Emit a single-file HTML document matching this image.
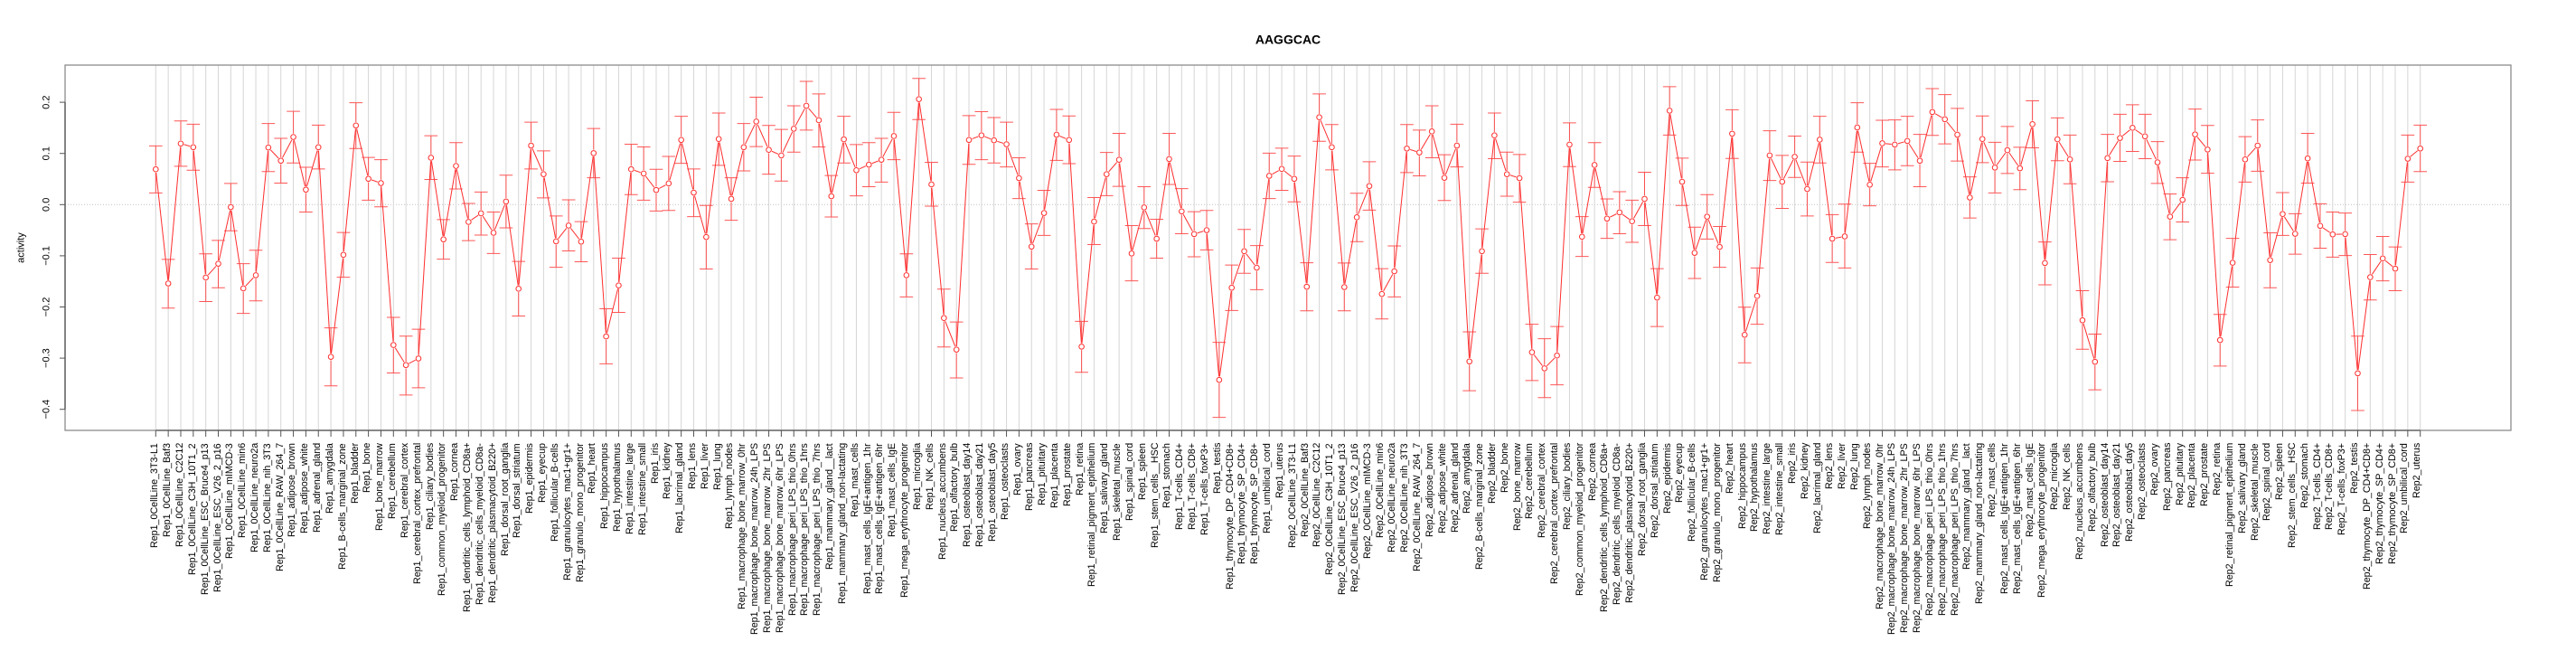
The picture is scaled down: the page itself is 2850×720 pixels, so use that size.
<!DOCTYPE html>
<html><head><meta charset="utf-8"><style>
html,body{margin:0;padding:0;background:#fff;}
#c{position:relative;width:2850px;height:720px;overflow:hidden;font-family:"Liberation Sans",Arial,sans-serif;}
svg{position:absolute;left:0;top:0;}
.t path,.t polyline,.t ellipse{vector-effect:non-scaling-stroke;}
.xl{position:absolute;left:165.38px;top:490px;width:2519.3px;height:230px;display:flex;}
.xl span{flex:0 0 13.842px;width:13.842px;height:230px;writing-mode:vertical-rl;transform:rotate(180deg);text-align:end;line-height:13.842px;font-size:10.7px;white-space:nowrap;color:#000;overflow:visible;}
</style></head><body><div id="c">
<svg width="2850" height="720" viewBox="0 0 2850 720" xmlns="http://www.w3.org/2000/svg" font-family="Liberation Sans, Arial, sans-serif">
<rect x="0" y="0" width="2850" height="720" fill="#fff"/>
<text x="1425" y="48.3" text-anchor="middle" font-weight="bold" font-size="14">AAGGCAC</text>
<line x1="72" y1="226.3" x2="2778" y2="226.3" stroke="#c4c4c4" stroke-dasharray="1 2"/>
<g class="t" transform="matrix(13.842 0 0 0.36398 172.3 70)">
<path fill="none" stroke="#d6d6d6" stroke-width="1" d="M0 5.5V1115.4M1 5.5V1115.4M2 5.5V1115.4M3 5.5V1115.4M4 5.5V1115.4M5 5.5V1115.4M6 5.5V1115.4M7 5.5V1115.4M8 5.5V1115.4M9 5.5V1115.4M10 5.5V1115.4M11 5.5V1115.4M12 5.5V1115.4M13 5.5V1115.4M14 5.5V1115.4M15 5.5V1115.4M16 5.5V1115.4M17 5.5V1115.4M18 5.5V1115.4M19 5.5V1115.4M20 5.5V1115.4M21 5.5V1115.4M22 5.5V1115.4M23 5.5V1115.4M24 5.5V1115.4M25 5.5V1115.4M26 5.5V1115.4M27 5.5V1115.4M28 5.5V1115.4M29 5.5V1115.4M30 5.5V1115.4M31 5.5V1115.4M32 5.5V1115.4M33 5.5V1115.4M34 5.5V1115.4M35 5.5V1115.4M36 5.5V1115.4M37 5.5V1115.4M38 5.5V1115.4M39 5.5V1115.4M40 5.5V1115.4M41 5.5V1115.4M42 5.5V1115.4M43 5.5V1115.4M44 5.5V1115.4M45 5.5V1115.4M46 5.5V1115.4M47 5.5V1115.4M48 5.5V1115.4M49 5.5V1115.4M50 5.5V1115.4M51 5.5V1115.4M52 5.5V1115.4M53 5.5V1115.4M54 5.5V1115.4M55 5.5V1115.4M56 5.5V1115.4M57 5.5V1115.4M58 5.5V1115.4M59 5.5V1115.4M60 5.5V1115.4M61 5.5V1115.4M62 5.5V1115.4M63 5.5V1115.4M64 5.5V1115.4M65 5.5V1115.4M66 5.5V1115.4M67 5.5V1115.4M68 5.5V1115.4M69 5.5V1115.4M70 5.5V1115.4M71 5.5V1115.4M72 5.5V1115.4M73 5.5V1115.4M74 5.5V1115.4M75 5.5V1115.4M76 5.5V1115.4M77 5.5V1115.4M78 5.5V1115.4M79 5.5V1115.4M80 5.5V1115.4M81 5.5V1115.4M82 5.5V1115.4M83 5.5V1115.4M84 5.5V1115.4M85 5.5V1115.4M86 5.5V1115.4M87 5.5V1115.4M88 5.5V1115.4M89 5.5V1115.4M90 5.5V1115.4M91 5.5V1115.4M92 5.5V1115.4M93 5.5V1115.4M94 5.5V1115.4M95 5.5V1115.4M96 5.5V1115.4M97 5.5V1115.4M98 5.5V1115.4M99 5.5V1115.4M100 5.5V1115.4M101 5.5V1115.4M102 5.5V1115.4M103 5.5V1115.4M104 5.5V1115.4M105 5.5V1115.4M106 5.5V1115.4M107 5.5V1115.4M108 5.5V1115.4M109 5.5V1115.4M110 5.5V1115.4M111 5.5V1115.4M112 5.5V1115.4M113 5.5V1115.4M114 5.5V1115.4M115 5.5V1115.4M116 5.5V1115.4M117 5.5V1115.4M118 5.5V1115.4M119 5.5V1115.4M120 5.5V1115.4M121 5.5V1115.4M122 5.5V1115.4M123 5.5V1115.4M124 5.5V1115.4M125 5.5V1115.4M126 5.5V1115.4M127 5.5V1115.4M128 5.5V1115.4M129 5.5V1115.4M130 5.5V1115.4M131 5.5V1115.4M132 5.5V1115.4M133 5.5V1115.4M134 5.5V1115.4M135 5.5V1115.4M136 5.5V1115.4M137 5.5V1115.4M138 5.5V1115.4M139 5.5V1115.4M140 5.5V1115.4M141 5.5V1115.4M142 5.5V1115.4M143 5.5V1115.4M144 5.5V1115.4M145 5.5V1115.4M146 5.5V1115.4M147 5.5V1115.4M148 5.5V1115.4M149 5.5V1115.4M150 5.5V1115.4M151 5.5V1115.4M152 5.5V1115.4M153 5.5V1115.4M154 5.5V1115.4M155 5.5V1115.4M156 5.5V1115.4M157 5.5V1115.4M158 5.5V1115.4M159 5.5V1115.4M160 5.5V1115.4M161 5.5V1115.4M162 5.5V1115.4M163 5.5V1115.4M164 5.5V1115.4M165 5.5V1115.4M166 5.5V1115.4M167 5.5V1115.4M168 5.5V1115.4M169 5.5V1115.4M170 5.5V1115.4M171 5.5V1115.4M172 5.5V1115.4M173 5.5V1115.4M174 5.5V1115.4M175 5.5V1115.4M176 5.5V1115.4M177 5.5V1115.4M178 5.5V1115.4M179 5.5V1115.4M180 5.5V1115.4M181 5.5V1115.4"/>
<path fill="none" stroke="#555" stroke-width="1" d="M0 1115.4V1134.6M1 1115.4V1134.6M2 1115.4V1134.6M3 1115.4V1134.6M4 1115.4V1134.6M5 1115.4V1134.6M6 1115.4V1134.6M7 1115.4V1134.6M8 1115.4V1134.6M9 1115.4V1134.6M10 1115.4V1134.6M11 1115.4V1134.6M12 1115.4V1134.6M13 1115.4V1134.6M14 1115.4V1134.6M15 1115.4V1134.6M16 1115.4V1134.6M17 1115.4V1134.6M18 1115.4V1134.6M19 1115.4V1134.6M20 1115.4V1134.6M21 1115.4V1134.6M22 1115.4V1134.6M23 1115.4V1134.6M24 1115.4V1134.6M25 1115.4V1134.6M26 1115.4V1134.6M27 1115.4V1134.6M28 1115.4V1134.6M29 1115.4V1134.6M30 1115.4V1134.6M31 1115.4V1134.6M32 1115.4V1134.6M33 1115.4V1134.6M34 1115.4V1134.6M35 1115.4V1134.6M36 1115.4V1134.6M37 1115.4V1134.6M38 1115.4V1134.6M39 1115.4V1134.6M40 1115.4V1134.6M41 1115.4V1134.6M42 1115.4V1134.6M43 1115.4V1134.6M44 1115.4V1134.6M45 1115.4V1134.6M46 1115.4V1134.6M47 1115.4V1134.6M48 1115.4V1134.6M49 1115.4V1134.6M50 1115.4V1134.6M51 1115.4V1134.6M52 1115.4V1134.6M53 1115.4V1134.6M54 1115.4V1134.6M55 1115.4V1134.6M56 1115.4V1134.6M57 1115.4V1134.6M58 1115.4V1134.6M59 1115.4V1134.6M60 1115.4V1134.6M61 1115.4V1134.6M62 1115.4V1134.6M63 1115.4V1134.6M64 1115.4V1134.6M65 1115.4V1134.6M66 1115.4V1134.6M67 1115.4V1134.6M68 1115.4V1134.6M69 1115.4V1134.6M70 1115.4V1134.6M71 1115.4V1134.6M72 1115.4V1134.6M73 1115.4V1134.6M74 1115.4V1134.6M75 1115.4V1134.6M76 1115.4V1134.6M77 1115.4V1134.6M78 1115.4V1134.6M79 1115.4V1134.6M80 1115.4V1134.6M81 1115.4V1134.6M82 1115.4V1134.6M83 1115.4V1134.6M84 1115.4V1134.6M85 1115.4V1134.6M86 1115.4V1134.6M87 1115.4V1134.6M88 1115.4V1134.6M89 1115.4V1134.6M90 1115.4V1134.6M91 1115.4V1134.6M92 1115.4V1134.6M93 1115.4V1134.6M94 1115.4V1134.6M95 1115.4V1134.6M96 1115.4V1134.6M97 1115.4V1134.6M98 1115.4V1134.6M99 1115.4V1134.6M100 1115.4V1134.6M101 1115.4V1134.6M102 1115.4V1134.6M103 1115.4V1134.6M104 1115.4V1134.6M105 1115.4V1134.6M106 1115.4V1134.6M107 1115.4V1134.6M108 1115.4V1134.6M109 1115.4V1134.6M110 1115.4V1134.6M111 1115.4V1134.6M112 1115.4V1134.6M113 1115.4V1134.6M114 1115.4V1134.6M115 1115.4V1134.6M116 1115.4V1134.6M117 1115.4V1134.6M118 1115.4V1134.6M119 1115.4V1134.6M120 1115.4V1134.6M121 1115.4V1134.6M122 1115.4V1134.6M123 1115.4V1134.6M124 1115.4V1134.6M125 1115.4V1134.6M126 1115.4V1134.6M127 1115.4V1134.6M128 1115.4V1134.6M129 1115.4V1134.6M130 1115.4V1134.6M131 1115.4V1134.6M132 1115.4V1134.6M133 1115.4V1134.6M134 1115.4V1134.6M135 1115.4V1134.6M136 1115.4V1134.6M137 1115.4V1134.6M138 1115.4V1134.6M139 1115.4V1134.6M140 1115.4V1134.6M141 1115.4V1134.6M142 1115.4V1134.6M143 1115.4V1134.6M144 1115.4V1134.6M145 1115.4V1134.6M146 1115.4V1134.6M147 1115.4V1134.6M148 1115.4V1134.6M149 1115.4V1134.6M150 1115.4V1134.6M151 1115.4V1134.6M152 1115.4V1134.6M153 1115.4V1134.6M154 1115.4V1134.6M155 1115.4V1134.6M156 1115.4V1134.6M157 1115.4V1134.6M158 1115.4V1134.6M159 1115.4V1134.6M160 1115.4V1134.6M161 1115.4V1134.6M162 1115.4V1134.6M163 1115.4V1134.6M164 1115.4V1134.6M165 1115.4V1134.6M166 1115.4V1134.6M167 1115.4V1134.6M168 1115.4V1134.6M169 1115.4V1134.6M170 1115.4V1134.6M171 1115.4V1134.6M172 1115.4V1134.6M173 1115.4V1134.6M174 1115.4V1134.6M175 1115.4V1134.6M176 1115.4V1134.6M177 1115.4V1134.6M178 1115.4V1134.6M179 1115.4V1134.6M180 1115.4V1134.6M181 1115.4V1134.6"/>
<polyline fill="none" stroke="#ff2e2e" stroke-width="1" points="0,322 1,669 2,244 3,255 4,651 5,609 6,437 7,684 8,644 9,256 10,296 11,224 12,384 13,255 14,892 15,582 16,189 17,351 18,364 19,856 20,917 21,897 22,287 23,535 24,312 25,482 26,456 27,515 28,420 29,685 30,250 31,337 32,541 33,493 34,542 35,273 36,830 37,675 38,322 39,335 40,385 41,365 42,233 43,393 44,528 45,230 46,412 47,255 48,177 49,263 50,280 51,199 52,129 53,173 54,404 55,231 56,325 57,308 58,293 59,221 60,644 61,109 62,368 63,774 64,870 65,233 66,219 67,234 68,246 69,349 70,557 71,455 72,217 73,233 74,861 75,481 76,337 77,293 78,578 79,438 80,533 81,291 82,450 83,519 84,507 85,962 86,682 87,571 88,621 89,342 90,321 91,351 92,679 93,164 94,255 95,680 96,468 97,373 98,701 99,632 100,259 101,271 102,207 103,348 104,250 105,906 106,571 107,219 108,337 109,349 110,878 111,927 112,888 113,247 114,527 115,309 116,472 117,453 118,480 119,412 120,712 121,144 122,360 123,576 124,466 125,558 126,214 127,825 128,707 129,280 130,360 131,284 132,382 133,232 134,533 135,526 136,195 137,369 138,243 139,247 140,236 141,296 142,148 143,170 144,217 145,408 146,230 147,317 148,264 149,319 150,185 151,607 152,231 153,292 154,781 155,907 156,288 157,227 158,196 159,222 160,301 161,466 162,415 163,216 164,262 165,841 166,606 167,292 168,250 169,598 170,458 171,518 172,289 173,494 174,520 175,519 176,942 177,650 178,593 179,624 180,290 181,259"/>
<path fill="none" stroke="#ff3a3a" stroke-opacity="0.85" stroke-width="1" d="M-.53 251h1.06m-.53 0V394m-.53 0h1.06M.47 596h1.06m-.53 0V744m-.53 0h1.06M1.47 175h1.06m-.53 0V313m-.53 0h1.06M2.47 185h1.06m-.53 0V325m-.53 0h1.06M3.47 579h1.06m-.53 0V724m-.53 0h1.06M4.47 538h1.06m-.53 0V682m-.53 0h1.06M5.47 365h1.06m-.53 0V509m-.53 0h1.06M6.47 609h1.06m-.53 0V760m-.53 0h1.06M7.47 568h1.06m-.53 0V722m-.53 0h1.06M8.47 183h1.06m-.53 0V329m-.53 0h1.06M9.47 228h1.06m-.53 0V364m-.53 0h1.06M10.47 146h1.06m-.53 0V303m-.53 0h1.06M11.47 316h1.06m-.53 0V452m-.53 0h1.06M12.47 188h1.06m-.53 0V321m-.53 0h1.06M13.47 804h1.06m-.53 0V980m-.53 0h1.06M14.47 514h1.06m-.53 0V650m-.53 0h1.06M15.47 120h1.06m-.53 0V259m-.53 0h1.06M16.47 286h1.06m-.53 0V416m-.53 0h1.06M17.47 293h1.06m-.53 0V436m-.53 0h1.06M18.47 772h1.06m-.53 0V941m-.53 0h1.06M19.47 829h1.06m-.53 0V1008m-.53 0h1.06M20.47 808h1.06m-.53 0V986m-.53 0h1.06M21.47 220h1.06m-.53 0V353m-.53 0h1.06M22.47 475h1.06m-.53 0V595m-.53 0h1.06M23.47 241h1.06m-.53 0V382m-.53 0h1.06M24.47 426h1.06m-.53 0V539m-.53 0h1.06M25.47 391h1.06m-.53 0V522m-.53 0h1.06M26.47 452h1.06m-.53 0V578m-.53 0h1.06M27.47 340h1.06m-.53 0V500m-.53 0h1.06M28.47 602h1.06m-.53 0V768m-.53 0h1.06M29.47 179h1.06m-.53 0V321m-.53 0h1.06M30.47 266h1.06m-.53 0V409m-.53 0h1.06M31.47 464h1.06m-.53 0V620m-.53 0h1.06M32.47 415h1.06m-.53 0V570m-.53 0h1.06M33.47 481h1.06m-.53 0V603m-.53 0h1.06M34.47 198h1.06m-.53 0V348m-.53 0h1.06M35.47 746h1.06m-.53 0V913m-.53 0h1.06M36.47 592h1.06m-.53 0V757m-.53 0h1.06M37.47 246h1.06m-.53 0V399m-.53 0h1.06M38.47 254h1.06m-.53 0V416m-.53 0h1.06M39.47 322h1.06m-.53 0V449m-.53 0h1.06M40.47 283h1.06m-.53 0V447m-.53 0h1.06M41.47 161h1.06m-.53 0V304m-.53 0h1.06M42.47 321h1.06m-.53 0V466m-.53 0h1.06M43.47 432h1.06m-.53 0V625m-.53 0h1.06M44.47 151h1.06m-.53 0V310m-.53 0h1.06M45.47 348h1.06m-.53 0V477m-.53 0h1.06M46.47 183h1.06m-.53 0V327m-.53 0h1.06M47.47 103h1.06m-.53 0V253m-.53 0h1.06M48.47 189h1.06m-.53 0V337m-.53 0h1.06M49.47 201h1.06m-.53 0V358m-.53 0h1.06M50.47 129h1.06m-.53 0V270m-.53 0h1.06M51.47 55h1.06m-.53 0V203m-.53 0h1.06M52.47 93h1.06m-.53 0V254m-.53 0h1.06M53.47 341h1.06m-.53 0V467m-.53 0h1.06M54.47 161h1.06m-.53 0V303m-.53 0h1.06M55.47 247h1.06m-.53 0V403m-.53 0h1.06M56.47 241h1.06m-.53 0V375m-.53 0h1.06M57.47 228h1.06m-.53 0V361m-.53 0h1.06M58.47 149h1.06m-.53 0V293m-.53 0h1.06M59.47 579h1.06m-.53 0V710m-.53 0h1.06M60.47 46h1.06m-.53 0V171m-.53 0h1.06M61.47 301h1.06m-.53 0V434m-.53 0h1.06M62.47 686h1.06m-.53 0V862m-.53 0h1.06M63.47 786h1.06m-.53 0V956m-.53 0h1.06M64.47 159h1.06m-.53 0V307m-.53 0h1.06M65.47 147h1.06m-.53 0V293m-.53 0h1.06M66.47 165h1.06m-.53 0V303m-.53 0h1.06M67.47 179h1.06m-.53 0V315m-.53 0h1.06M68.47 287h1.06m-.53 0V411m-.53 0h1.06M69.47 488h1.06m-.53 0V625m-.53 0h1.06M70.47 386h1.06m-.53 0V523m-.53 0h1.06M71.47 140h1.06m-.53 0V295m-.53 0h1.06M72.47 160h1.06m-.53 0V305m-.53 0h1.06M73.47 784h1.06m-.53 0V939m-.53 0h1.06M74.47 408h1.06m-.53 0V551m-.53 0h1.06M75.47 271h1.06m-.53 0V402m-.53 0h1.06M76.47 213h1.06m-.53 0V374m-.53 0h1.06M77.47 493h1.06m-.53 0V661m-.53 0h1.06M78.47 375h1.06m-.53 0V502m-.53 0h1.06M79.47 474h1.06m-.53 0V592m-.53 0h1.06M80.47 213h1.06m-.53 0V368m-.53 0h1.06M81.47 381h1.06m-.53 0V518m-.53 0h1.06M82.47 451h1.06m-.53 0V588m-.53 0h1.06M83.47 447h1.06m-.53 0V567m-.53 0h1.06M84.47 848h1.06m-.53 0V1076m-.53 0h1.06M85.47 613h1.06m-.53 0V751m-.53 0h1.06M86.47 505h1.06m-.53 0V638m-.53 0h1.06M87.47 554h1.06m-.53 0V688m-.53 0h1.06M88.47 273h1.06m-.53 0V411m-.53 0h1.06M89.47 258h1.06m-.53 0V386m-.53 0h1.06M90.47 282h1.06m-.53 0V421m-.53 0h1.06M91.47 606h1.06m-.53 0V752m-.53 0h1.06M92.47 93h1.06m-.53 0V237m-.53 0h1.06M93.47 186h1.06m-.53 0V324m-.53 0h1.06M94.47 607h1.06m-.53 0V752m-.53 0h1.06M95.47 395h1.06m-.53 0V542m-.53 0h1.06M96.47 299h1.06m-.53 0V446m-.53 0h1.06M97.47 624h1.06m-.53 0V777m-.53 0h1.06M98.47 555h1.06m-.53 0V710m-.53 0h1.06M99.47 186h1.06m-.53 0V332m-.53 0h1.06M100.47 203h1.06m-.53 0V342m-.53 0h1.06M101.47 129h1.06m-.53 0V287m-.53 0h1.06M102.47 278h1.06m-.53 0V417m-.53 0h1.06M103.47 185h1.06m-.53 0V315m-.53 0h1.06M104.47 816h1.06m-.53 0V995m-.53 0h1.06M105.47 503h1.06m-.53 0V638m-.53 0h1.06M106.47 151h1.06m-.53 0V290m-.53 0h1.06M107.47 270h1.06m-.53 0V404m-.53 0h1.06M108.47 277h1.06m-.53 0V422m-.53 0h1.06M109.47 793h1.06m-.53 0V964m-.53 0h1.06M110.47 837h1.06m-.53 0V1016m-.53 0h1.06M111.47 800h1.06m-.53 0V977m-.53 0h1.06M112.47 181h1.06m-.53 0V314m-.53 0h1.06M113.47 466h1.06m-.53 0V587m-.53 0h1.06M114.47 241h1.06m-.53 0V377m-.53 0h1.06M115.47 412h1.06m-.53 0V532m-.53 0h1.06M116.47 390h1.06m-.53 0V518m-.53 0h1.06M117.47 416h1.06m-.53 0V544m-.53 0h1.06M118.47 331h1.06m-.53 0V493m-.53 0h1.06M119.47 624h1.06m-.53 0V800m-.53 0h1.06M120.47 71h1.06m-.53 0V218m-.53 0h1.06M121.47 288h1.06m-.53 0V432m-.53 0h1.06M122.47 498h1.06m-.53 0V654m-.53 0h1.06M123.47 399h1.06m-.53 0V534m-.53 0h1.06M124.47 496h1.06m-.53 0V620m-.53 0h1.06M125.47 141h1.06m-.53 0V289m-.53 0h1.06M126.47 741h1.06m-.53 0V910m-.53 0h1.06M127.47 622h1.06m-.53 0V793m-.53 0h1.06M128.47 205h1.06m-.53 0V356m-.53 0h1.06M129.47 280h1.06m-.53 0V441m-.53 0h1.06M130.47 221h1.06m-.53 0V347m-.53 0h1.06M131.47 300h1.06m-.53 0V464m-.53 0h1.06M132.47 161h1.06m-.53 0V303m-.53 0h1.06M133.47 460h1.06m-.53 0V605m-.53 0h1.06M134.47 428h1.06m-.53 0V622m-.53 0h1.06M135.47 120h1.06m-.53 0V270m-.53 0h1.06M136.47 304h1.06m-.53 0V433m-.53 0h1.06M137.47 173h1.06m-.53 0V315m-.53 0h1.06M138.47 172h1.06m-.53 0V324m-.53 0h1.06M139.47 161h1.06m-.53 0V311m-.53 0h1.06M140.47 216h1.06m-.53 0V375m-.53 0h1.06M141.47 77h1.06m-.53 0V219m-.53 0h1.06M142.47 95h1.06m-.53 0V245m-.53 0h1.06M143.47 137h1.06m-.53 0V297m-.53 0h1.06M144.47 345h1.06m-.53 0V470m-.53 0h1.06M145.47 160h1.06m-.53 0V302m-.53 0h1.06M146.47 240h1.06m-.53 0V394m-.53 0h1.06M147.47 192h1.06m-.53 0V335m-.53 0h1.06M148.47 255h1.06m-.53 0V384m-.53 0h1.06M149.47 114h1.06m-.53 0V257m-.53 0h1.06M150.47 543h1.06m-.53 0V673m-.53 0h1.06M151.47 166h1.06m-.53 0V296m-.53 0h1.06M152.47 218h1.06m-.53 0V366m-.53 0h1.06M153.47 691h1.06m-.53 0V869m-.53 0h1.06M154.47 823h1.06m-.53 0V992m-.53 0h1.06M155.47 216h1.06m-.53 0V360m-.53 0h1.06M156.47 155h1.06m-.53 0V298m-.53 0h1.06M157.47 126h1.06m-.53 0V268m-.53 0h1.06M158.47 155h1.06m-.53 0V290m-.53 0h1.06M159.47 238h1.06m-.53 0V365m-.53 0h1.06M160.47 397h1.06m-.53 0V536m-.53 0h1.06M161.47 348h1.06m-.53 0V482m-.53 0h1.06M162.47 139h1.06m-.53 0V294m-.53 0h1.06M163.47 189h1.06m-.53 0V334m-.53 0h1.06M164.47 763h1.06m-.53 0V920m-.53 0h1.06M165.47 532h1.06m-.53 0V680m-.53 0h1.06M166.47 223h1.06m-.53 0V361m-.53 0h1.06M167.47 172h1.06m-.53 0V328m-.53 0h1.06M168.47 515h1.06m-.53 0V682m-.53 0h1.06M169.47 393h1.06m-.53 0V523m-.53 0h1.06M170.47 457h1.06m-.53 0V580m-.53 0h1.06M171.47 213h1.06m-.53 0V364m-.53 0h1.06M172.47 427h1.06m-.53 0V562m-.53 0h1.06M173.47 452h1.06m-.53 0V589m-.53 0h1.06M174.47 455h1.06m-.53 0V584m-.53 0h1.06M175.47 829h1.06m-.53 0V1055m-.53 0h1.06M176.47 581h1.06m-.53 0V719m-.53 0h1.06M177.47 526h1.06m-.53 0V661m-.53 0h1.06M178.47 558h1.06m-.53 0V691m-.53 0h1.06M179.47 218h1.06m-.53 0V361m-.53 0h1.06M180.47 188h1.06m-.53 0V329m-.53 0h1.06"/>
<g fill="#fff" stroke="none">
<ellipse cx="0" cy="322" rx=".2745" ry="10.44"/><ellipse cx="1" cy="669" rx=".2745" ry="10.44"/><ellipse cx="2" cy="244" rx=".2745" ry="10.44"/><ellipse cx="3" cy="255" rx=".2745" ry="10.44"/><ellipse cx="4" cy="651" rx=".2745" ry="10.44"/><ellipse cx="5" cy="609" rx=".2745" ry="10.44"/><ellipse cx="6" cy="437" rx=".2745" ry="10.44"/><ellipse cx="7" cy="684" rx=".2745" ry="10.44"/><ellipse cx="8" cy="644" rx=".2745" ry="10.44"/><ellipse cx="9" cy="256" rx=".2745" ry="10.44"/><ellipse cx="10" cy="296" rx=".2745" ry="10.44"/><ellipse cx="11" cy="224" rx=".2745" ry="10.44"/><ellipse cx="12" cy="384" rx=".2745" ry="10.44"/><ellipse cx="13" cy="255" rx=".2745" ry="10.44"/><ellipse cx="14" cy="892" rx=".2745" ry="10.44"/><ellipse cx="15" cy="582" rx=".2745" ry="10.44"/><ellipse cx="16" cy="189" rx=".2745" ry="10.44"/><ellipse cx="17" cy="351" rx=".2745" ry="10.44"/><ellipse cx="18" cy="364" rx=".2745" ry="10.44"/><ellipse cx="19" cy="856" rx=".2745" ry="10.44"/><ellipse cx="20" cy="917" rx=".2745" ry="10.44"/><ellipse cx="21" cy="897" rx=".2745" ry="10.44"/><ellipse cx="22" cy="287" rx=".2745" ry="10.44"/><ellipse cx="23" cy="535" rx=".2745" ry="10.44"/><ellipse cx="24" cy="312" rx=".2745" ry="10.44"/><ellipse cx="25" cy="482" rx=".2745" ry="10.44"/><ellipse cx="26" cy="456" rx=".2745" ry="10.44"/><ellipse cx="27" cy="515" rx=".2745" ry="10.44"/><ellipse cx="28" cy="420" rx=".2745" ry="10.44"/><ellipse cx="29" cy="685" rx=".2745" ry="10.44"/><ellipse cx="30" cy="250" rx=".2745" ry="10.44"/><ellipse cx="31" cy="337" rx=".2745" ry="10.44"/><ellipse cx="32" cy="541" rx=".2745" ry="10.44"/><ellipse cx="33" cy="493" rx=".2745" ry="10.44"/><ellipse cx="34" cy="542" rx=".2745" ry="10.44"/><ellipse cx="35" cy="273" rx=".2745" ry="10.44"/><ellipse cx="36" cy="830" rx=".2745" ry="10.44"/><ellipse cx="37" cy="675" rx=".2745" ry="10.44"/><ellipse cx="38" cy="322" rx=".2745" ry="10.44"/><ellipse cx="39" cy="335" rx=".2745" ry="10.44"/><ellipse cx="40" cy="385" rx=".2745" ry="10.44"/><ellipse cx="41" cy="365" rx=".2745" ry="10.44"/><ellipse cx="42" cy="233" rx=".2745" ry="10.44"/><ellipse cx="43" cy="393" rx=".2745" ry="10.44"/><ellipse cx="44" cy="528" rx=".2745" ry="10.44"/><ellipse cx="45" cy="230" rx=".2745" ry="10.44"/><ellipse cx="46" cy="412" rx=".2745" ry="10.44"/><ellipse cx="47" cy="255" rx=".2745" ry="10.44"/><ellipse cx="48" cy="177" rx=".2745" ry="10.44"/><ellipse cx="49" cy="263" rx=".2745" ry="10.44"/><ellipse cx="50" cy="280" rx=".2745" ry="10.44"/><ellipse cx="51" cy="199" rx=".2745" ry="10.44"/><ellipse cx="52" cy="129" rx=".2745" ry="10.44"/><ellipse cx="53" cy="173" rx=".2745" ry="10.44"/><ellipse cx="54" cy="404" rx=".2745" ry="10.44"/><ellipse cx="55" cy="231" rx=".2745" ry="10.44"/><ellipse cx="56" cy="325" rx=".2745" ry="10.44"/><ellipse cx="57" cy="308" rx=".2745" ry="10.44"/><ellipse cx="58" cy="293" rx=".2745" ry="10.44"/><ellipse cx="59" cy="221" rx=".2745" ry="10.44"/><ellipse cx="60" cy="644" rx=".2745" ry="10.44"/><ellipse cx="61" cy="109" rx=".2745" ry="10.44"/><ellipse cx="62" cy="368" rx=".2745" ry="10.44"/><ellipse cx="63" cy="774" rx=".2745" ry="10.44"/><ellipse cx="64" cy="870" rx=".2745" ry="10.44"/><ellipse cx="65" cy="233" rx=".2745" ry="10.44"/><ellipse cx="66" cy="219" rx=".2745" ry="10.44"/><ellipse cx="67" cy="234" rx=".2745" ry="10.44"/><ellipse cx="68" cy="246" rx=".2745" ry="10.44"/><ellipse cx="69" cy="349" rx=".2745" ry="10.44"/><ellipse cx="70" cy="557" rx=".2745" ry="10.44"/><ellipse cx="71" cy="455" rx=".2745" ry="10.44"/><ellipse cx="72" cy="217" rx=".2745" ry="10.44"/><ellipse cx="73" cy="233" rx=".2745" ry="10.44"/><ellipse cx="74" cy="861" rx=".2745" ry="10.44"/><ellipse cx="75" cy="481" rx=".2745" ry="10.44"/><ellipse cx="76" cy="337" rx=".2745" ry="10.44"/><ellipse cx="77" cy="293" rx=".2745" ry="10.44"/><ellipse cx="78" cy="578" rx=".2745" ry="10.44"/><ellipse cx="79" cy="438" rx=".2745" ry="10.44"/><ellipse cx="80" cy="533" rx=".2745" ry="10.44"/><ellipse cx="81" cy="291" rx=".2745" ry="10.44"/><ellipse cx="82" cy="450" rx=".2745" ry="10.44"/><ellipse cx="83" cy="519" rx=".2745" ry="10.44"/><ellipse cx="84" cy="507" rx=".2745" ry="10.44"/><ellipse cx="85" cy="962" rx=".2745" ry="10.44"/><ellipse cx="86" cy="682" rx=".2745" ry="10.44"/><ellipse cx="87" cy="571" rx=".2745" ry="10.44"/><ellipse cx="88" cy="621" rx=".2745" ry="10.44"/><ellipse cx="89" cy="342" rx=".2745" ry="10.44"/><ellipse cx="90" cy="321" rx=".2745" ry="10.44"/><ellipse cx="91" cy="351" rx=".2745" ry="10.44"/><ellipse cx="92" cy="679" rx=".2745" ry="10.44"/><ellipse cx="93" cy="164" rx=".2745" ry="10.44"/><ellipse cx="94" cy="255" rx=".2745" ry="10.44"/><ellipse cx="95" cy="680" rx=".2745" ry="10.44"/><ellipse cx="96" cy="468" rx=".2745" ry="10.44"/><ellipse cx="97" cy="373" rx=".2745" ry="10.44"/><ellipse cx="98" cy="701" rx=".2745" ry="10.44"/><ellipse cx="99" cy="632" rx=".2745" ry="10.44"/><ellipse cx="100" cy="259" rx=".2745" ry="10.44"/><ellipse cx="101" cy="271" rx=".2745" ry="10.44"/><ellipse cx="102" cy="207" rx=".2745" ry="10.44"/><ellipse cx="103" cy="348" rx=".2745" ry="10.44"/><ellipse cx="104" cy="250" rx=".2745" ry="10.44"/><ellipse cx="105" cy="906" rx=".2745" ry="10.44"/><ellipse cx="106" cy="571" rx=".2745" ry="10.44"/><ellipse cx="107" cy="219" rx=".2745" ry="10.44"/><ellipse cx="108" cy="337" rx=".2745" ry="10.44"/><ellipse cx="109" cy="349" rx=".2745" ry="10.44"/><ellipse cx="110" cy="878" rx=".2745" ry="10.44"/><ellipse cx="111" cy="927" rx=".2745" ry="10.44"/><ellipse cx="112" cy="888" rx=".2745" ry="10.44"/><ellipse cx="113" cy="247" rx=".2745" ry="10.44"/><ellipse cx="114" cy="527" rx=".2745" ry="10.44"/><ellipse cx="115" cy="309" rx=".2745" ry="10.44"/><ellipse cx="116" cy="472" rx=".2745" ry="10.44"/><ellipse cx="117" cy="453" rx=".2745" ry="10.44"/><ellipse cx="118" cy="480" rx=".2745" ry="10.44"/><ellipse cx="119" cy="412" rx=".2745" ry="10.44"/><ellipse cx="120" cy="712" rx=".2745" ry="10.44"/><ellipse cx="121" cy="144" rx=".2745" ry="10.44"/><ellipse cx="122" cy="360" rx=".2745" ry="10.44"/><ellipse cx="123" cy="576" rx=".2745" ry="10.44"/><ellipse cx="124" cy="466" rx=".2745" ry="10.44"/><ellipse cx="125" cy="558" rx=".2745" ry="10.44"/><ellipse cx="126" cy="214" rx=".2745" ry="10.44"/><ellipse cx="127" cy="825" rx=".2745" ry="10.44"/><ellipse cx="128" cy="707" rx=".2745" ry="10.44"/><ellipse cx="129" cy="280" rx=".2745" ry="10.44"/><ellipse cx="130" cy="360" rx=".2745" ry="10.44"/><ellipse cx="131" cy="284" rx=".2745" ry="10.44"/><ellipse cx="132" cy="382" rx=".2745" ry="10.44"/><ellipse cx="133" cy="232" rx=".2745" ry="10.44"/><ellipse cx="134" cy="533" rx=".2745" ry="10.44"/><ellipse cx="135" cy="526" rx=".2745" ry="10.44"/><ellipse cx="136" cy="195" rx=".2745" ry="10.44"/><ellipse cx="137" cy="369" rx=".2745" ry="10.44"/><ellipse cx="138" cy="243" rx=".2745" ry="10.44"/><ellipse cx="139" cy="247" rx=".2745" ry="10.44"/><ellipse cx="140" cy="236" rx=".2745" ry="10.44"/><ellipse cx="141" cy="296" rx=".2745" ry="10.44"/><ellipse cx="142" cy="148" rx=".2745" ry="10.44"/><ellipse cx="143" cy="170" rx=".2745" ry="10.44"/><ellipse cx="144" cy="217" rx=".2745" ry="10.44"/><ellipse cx="145" cy="408" rx=".2745" ry="10.44"/><ellipse cx="146" cy="230" rx=".2745" ry="10.44"/><ellipse cx="147" cy="317" rx=".2745" ry="10.44"/><ellipse cx="148" cy="264" rx=".2745" ry="10.44"/><ellipse cx="149" cy="319" rx=".2745" ry="10.44"/><ellipse cx="150" cy="185" rx=".2745" ry="10.44"/><ellipse cx="151" cy="607" rx=".2745" ry="10.44"/><ellipse cx="152" cy="231" rx=".2745" ry="10.44"/><ellipse cx="153" cy="292" rx=".2745" ry="10.44"/><ellipse cx="154" cy="781" rx=".2745" ry="10.44"/><ellipse cx="155" cy="907" rx=".2745" ry="10.44"/><ellipse cx="156" cy="288" rx=".2745" ry="10.44"/><ellipse cx="157" cy="227" rx=".2745" ry="10.44"/><ellipse cx="158" cy="196" rx=".2745" ry="10.44"/><ellipse cx="159" cy="222" rx=".2745" ry="10.44"/><ellipse cx="160" cy="301" rx=".2745" ry="10.44"/><ellipse cx="161" cy="466" rx=".2745" ry="10.44"/><ellipse cx="162" cy="415" rx=".2745" ry="10.44"/><ellipse cx="163" cy="216" rx=".2745" ry="10.44"/><ellipse cx="164" cy="262" rx=".2745" ry="10.44"/><ellipse cx="165" cy="841" rx=".2745" ry="10.44"/><ellipse cx="166" cy="606" rx=".2745" ry="10.44"/><ellipse cx="167" cy="292" rx=".2745" ry="10.44"/><ellipse cx="168" cy="250" rx=".2745" ry="10.44"/><ellipse cx="169" cy="598" rx=".2745" ry="10.44"/><ellipse cx="170" cy="458" rx=".2745" ry="10.44"/><ellipse cx="171" cy="518" rx=".2745" ry="10.44"/><ellipse cx="172" cy="289" rx=".2745" ry="10.44"/><ellipse cx="173" cy="494" rx=".2745" ry="10.44"/><ellipse cx="174" cy="520" rx=".2745" ry="10.44"/><ellipse cx="175" cy="519" rx=".2745" ry="10.44"/><ellipse cx="176" cy="942" rx=".2745" ry="10.44"/><ellipse cx="177" cy="650" rx=".2745" ry="10.44"/><ellipse cx="178" cy="593" rx=".2745" ry="10.44"/><ellipse cx="179" cy="624" rx=".2745" ry="10.44"/><ellipse cx="180" cy="290" rx=".2745" ry="10.44"/><ellipse cx="181" cy="259" rx=".2745" ry="10.44"/>
</g>
<g fill="none" stroke="#ff2e2e" stroke-width="1">
<ellipse cx="0" cy="322" rx=".2023" ry="7.693"/><ellipse cx="1" cy="669" rx=".2023" ry="7.693"/><ellipse cx="2" cy="244" rx=".2023" ry="7.693"/><ellipse cx="3" cy="255" rx=".2023" ry="7.693"/><ellipse cx="4" cy="651" rx=".2023" ry="7.693"/><ellipse cx="5" cy="609" rx=".2023" ry="7.693"/><ellipse cx="6" cy="437" rx=".2023" ry="7.693"/><ellipse cx="7" cy="684" rx=".2023" ry="7.693"/><ellipse cx="8" cy="644" rx=".2023" ry="7.693"/><ellipse cx="9" cy="256" rx=".2023" ry="7.693"/><ellipse cx="10" cy="296" rx=".2023" ry="7.693"/><ellipse cx="11" cy="224" rx=".2023" ry="7.693"/><ellipse cx="12" cy="384" rx=".2023" ry="7.693"/><ellipse cx="13" cy="255" rx=".2023" ry="7.693"/><ellipse cx="14" cy="892" rx=".2023" ry="7.693"/><ellipse cx="15" cy="582" rx=".2023" ry="7.693"/><ellipse cx="16" cy="189" rx=".2023" ry="7.693"/><ellipse cx="17" cy="351" rx=".2023" ry="7.693"/><ellipse cx="18" cy="364" rx=".2023" ry="7.693"/><ellipse cx="19" cy="856" rx=".2023" ry="7.693"/><ellipse cx="20" cy="917" rx=".2023" ry="7.693"/><ellipse cx="21" cy="897" rx=".2023" ry="7.693"/><ellipse cx="22" cy="287" rx=".2023" ry="7.693"/><ellipse cx="23" cy="535" rx=".2023" ry="7.693"/><ellipse cx="24" cy="312" rx=".2023" ry="7.693"/><ellipse cx="25" cy="482" rx=".2023" ry="7.693"/><ellipse cx="26" cy="456" rx=".2023" ry="7.693"/><ellipse cx="27" cy="515" rx=".2023" ry="7.693"/><ellipse cx="28" cy="420" rx=".2023" ry="7.693"/><ellipse cx="29" cy="685" rx=".2023" ry="7.693"/><ellipse cx="30" cy="250" rx=".2023" ry="7.693"/><ellipse cx="31" cy="337" rx=".2023" ry="7.693"/><ellipse cx="32" cy="541" rx=".2023" ry="7.693"/><ellipse cx="33" cy="493" rx=".2023" ry="7.693"/><ellipse cx="34" cy="542" rx=".2023" ry="7.693"/><ellipse cx="35" cy="273" rx=".2023" ry="7.693"/><ellipse cx="36" cy="830" rx=".2023" ry="7.693"/><ellipse cx="37" cy="675" rx=".2023" ry="7.693"/><ellipse cx="38" cy="322" rx=".2023" ry="7.693"/><ellipse cx="39" cy="335" rx=".2023" ry="7.693"/><ellipse cx="40" cy="385" rx=".2023" ry="7.693"/><ellipse cx="41" cy="365" rx=".2023" ry="7.693"/><ellipse cx="42" cy="233" rx=".2023" ry="7.693"/><ellipse cx="43" cy="393" rx=".2023" ry="7.693"/><ellipse cx="44" cy="528" rx=".2023" ry="7.693"/><ellipse cx="45" cy="230" rx=".2023" ry="7.693"/><ellipse cx="46" cy="412" rx=".2023" ry="7.693"/><ellipse cx="47" cy="255" rx=".2023" ry="7.693"/><ellipse cx="48" cy="177" rx=".2023" ry="7.693"/><ellipse cx="49" cy="263" rx=".2023" ry="7.693"/><ellipse cx="50" cy="280" rx=".2023" ry="7.693"/><ellipse cx="51" cy="199" rx=".2023" ry="7.693"/><ellipse cx="52" cy="129" rx=".2023" ry="7.693"/><ellipse cx="53" cy="173" rx=".2023" ry="7.693"/><ellipse cx="54" cy="404" rx=".2023" ry="7.693"/><ellipse cx="55" cy="231" rx=".2023" ry="7.693"/><ellipse cx="56" cy="325" rx=".2023" ry="7.693"/><ellipse cx="57" cy="308" rx=".2023" ry="7.693"/><ellipse cx="58" cy="293" rx=".2023" ry="7.693"/><ellipse cx="59" cy="221" rx=".2023" ry="7.693"/><ellipse cx="60" cy="644" rx=".2023" ry="7.693"/><ellipse cx="61" cy="109" rx=".2023" ry="7.693"/><ellipse cx="62" cy="368" rx=".2023" ry="7.693"/><ellipse cx="63" cy="774" rx=".2023" ry="7.693"/><ellipse cx="64" cy="870" rx=".2023" ry="7.693"/><ellipse cx="65" cy="233" rx=".2023" ry="7.693"/><ellipse cx="66" cy="219" rx=".2023" ry="7.693"/><ellipse cx="67" cy="234" rx=".2023" ry="7.693"/><ellipse cx="68" cy="246" rx=".2023" ry="7.693"/><ellipse cx="69" cy="349" rx=".2023" ry="7.693"/><ellipse cx="70" cy="557" rx=".2023" ry="7.693"/><ellipse cx="71" cy="455" rx=".2023" ry="7.693"/><ellipse cx="72" cy="217" rx=".2023" ry="7.693"/><ellipse cx="73" cy="233" rx=".2023" ry="7.693"/><ellipse cx="74" cy="861" rx=".2023" ry="7.693"/><ellipse cx="75" cy="481" rx=".2023" ry="7.693"/><ellipse cx="76" cy="337" rx=".2023" ry="7.693"/><ellipse cx="77" cy="293" rx=".2023" ry="7.693"/><ellipse cx="78" cy="578" rx=".2023" ry="7.693"/><ellipse cx="79" cy="438" rx=".2023" ry="7.693"/><ellipse cx="80" cy="533" rx=".2023" ry="7.693"/><ellipse cx="81" cy="291" rx=".2023" ry="7.693"/><ellipse cx="82" cy="450" rx=".2023" ry="7.693"/><ellipse cx="83" cy="519" rx=".2023" ry="7.693"/><ellipse cx="84" cy="507" rx=".2023" ry="7.693"/><ellipse cx="85" cy="962" rx=".2023" ry="7.693"/><ellipse cx="86" cy="682" rx=".2023" ry="7.693"/><ellipse cx="87" cy="571" rx=".2023" ry="7.693"/><ellipse cx="88" cy="621" rx=".2023" ry="7.693"/><ellipse cx="89" cy="342" rx=".2023" ry="7.693"/><ellipse cx="90" cy="321" rx=".2023" ry="7.693"/><ellipse cx="91" cy="351" rx=".2023" ry="7.693"/><ellipse cx="92" cy="679" rx=".2023" ry="7.693"/><ellipse cx="93" cy="164" rx=".2023" ry="7.693"/><ellipse cx="94" cy="255" rx=".2023" ry="7.693"/><ellipse cx="95" cy="680" rx=".2023" ry="7.693"/><ellipse cx="96" cy="468" rx=".2023" ry="7.693"/><ellipse cx="97" cy="373" rx=".2023" ry="7.693"/><ellipse cx="98" cy="701" rx=".2023" ry="7.693"/><ellipse cx="99" cy="632" rx=".2023" ry="7.693"/><ellipse cx="100" cy="259" rx=".2023" ry="7.693"/><ellipse cx="101" cy="271" rx=".2023" ry="7.693"/><ellipse cx="102" cy="207" rx=".2023" ry="7.693"/><ellipse cx="103" cy="348" rx=".2023" ry="7.693"/><ellipse cx="104" cy="250" rx=".2023" ry="7.693"/><ellipse cx="105" cy="906" rx=".2023" ry="7.693"/><ellipse cx="106" cy="571" rx=".2023" ry="7.693"/><ellipse cx="107" cy="219" rx=".2023" ry="7.693"/><ellipse cx="108" cy="337" rx=".2023" ry="7.693"/><ellipse cx="109" cy="349" rx=".2023" ry="7.693"/><ellipse cx="110" cy="878" rx=".2023" ry="7.693"/><ellipse cx="111" cy="927" rx=".2023" ry="7.693"/><ellipse cx="112" cy="888" rx=".2023" ry="7.693"/><ellipse cx="113" cy="247" rx=".2023" ry="7.693"/><ellipse cx="114" cy="527" rx=".2023" ry="7.693"/><ellipse cx="115" cy="309" rx=".2023" ry="7.693"/><ellipse cx="116" cy="472" rx=".2023" ry="7.693"/><ellipse cx="117" cy="453" rx=".2023" ry="7.693"/><ellipse cx="118" cy="480" rx=".2023" ry="7.693"/><ellipse cx="119" cy="412" rx=".2023" ry="7.693"/><ellipse cx="120" cy="712" rx=".2023" ry="7.693"/><ellipse cx="121" cy="144" rx=".2023" ry="7.693"/><ellipse cx="122" cy="360" rx=".2023" ry="7.693"/><ellipse cx="123" cy="576" rx=".2023" ry="7.693"/><ellipse cx="124" cy="466" rx=".2023" ry="7.693"/><ellipse cx="125" cy="558" rx=".2023" ry="7.693"/><ellipse cx="126" cy="214" rx=".2023" ry="7.693"/><ellipse cx="127" cy="825" rx=".2023" ry="7.693"/><ellipse cx="128" cy="707" rx=".2023" ry="7.693"/><ellipse cx="129" cy="280" rx=".2023" ry="7.693"/><ellipse cx="130" cy="360" rx=".2023" ry="7.693"/><ellipse cx="131" cy="284" rx=".2023" ry="7.693"/><ellipse cx="132" cy="382" rx=".2023" ry="7.693"/><ellipse cx="133" cy="232" rx=".2023" ry="7.693"/><ellipse cx="134" cy="533" rx=".2023" ry="7.693"/><ellipse cx="135" cy="526" rx=".2023" ry="7.693"/><ellipse cx="136" cy="195" rx=".2023" ry="7.693"/><ellipse cx="137" cy="369" rx=".2023" ry="7.693"/><ellipse cx="138" cy="243" rx=".2023" ry="7.693"/><ellipse cx="139" cy="247" rx=".2023" ry="7.693"/><ellipse cx="140" cy="236" rx=".2023" ry="7.693"/><ellipse cx="141" cy="296" rx=".2023" ry="7.693"/><ellipse cx="142" cy="148" rx=".2023" ry="7.693"/><ellipse cx="143" cy="170" rx=".2023" ry="7.693"/><ellipse cx="144" cy="217" rx=".2023" ry="7.693"/><ellipse cx="145" cy="408" rx=".2023" ry="7.693"/><ellipse cx="146" cy="230" rx=".2023" ry="7.693"/><ellipse cx="147" cy="317" rx=".2023" ry="7.693"/><ellipse cx="148" cy="264" rx=".2023" ry="7.693"/><ellipse cx="149" cy="319" rx=".2023" ry="7.693"/><ellipse cx="150" cy="185" rx=".2023" ry="7.693"/><ellipse cx="151" cy="607" rx=".2023" ry="7.693"/><ellipse cx="152" cy="231" rx=".2023" ry="7.693"/><ellipse cx="153" cy="292" rx=".2023" ry="7.693"/><ellipse cx="154" cy="781" rx=".2023" ry="7.693"/><ellipse cx="155" cy="907" rx=".2023" ry="7.693"/><ellipse cx="156" cy="288" rx=".2023" ry="7.693"/><ellipse cx="157" cy="227" rx=".2023" ry="7.693"/><ellipse cx="158" cy="196" rx=".2023" ry="7.693"/><ellipse cx="159" cy="222" rx=".2023" ry="7.693"/><ellipse cx="160" cy="301" rx=".2023" ry="7.693"/><ellipse cx="161" cy="466" rx=".2023" ry="7.693"/><ellipse cx="162" cy="415" rx=".2023" ry="7.693"/><ellipse cx="163" cy="216" rx=".2023" ry="7.693"/><ellipse cx="164" cy="262" rx=".2023" ry="7.693"/><ellipse cx="165" cy="841" rx=".2023" ry="7.693"/><ellipse cx="166" cy="606" rx=".2023" ry="7.693"/><ellipse cx="167" cy="292" rx=".2023" ry="7.693"/><ellipse cx="168" cy="250" rx=".2023" ry="7.693"/><ellipse cx="169" cy="598" rx=".2023" ry="7.693"/><ellipse cx="170" cy="458" rx=".2023" ry="7.693"/><ellipse cx="171" cy="518" rx=".2023" ry="7.693"/><ellipse cx="172" cy="289" rx=".2023" ry="7.693"/><ellipse cx="173" cy="494" rx=".2023" ry="7.693"/><ellipse cx="174" cy="520" rx=".2023" ry="7.693"/><ellipse cx="175" cy="519" rx=".2023" ry="7.693"/><ellipse cx="176" cy="942" rx=".2023" ry="7.693"/><ellipse cx="177" cy="650" rx=".2023" ry="7.693"/><ellipse cx="178" cy="593" rx=".2023" ry="7.693"/><ellipse cx="179" cy="624" rx=".2023" ry="7.693"/><ellipse cx="180" cy="290" rx=".2023" ry="7.693"/><ellipse cx="181" cy="259" rx=".2023" ry="7.693"/>
</g>
</g>
<rect x="72" y="72" width="2706" height="404" fill="none" stroke="#8c8c8c" stroke-width="1.3"/>
<line x1="72" y1="452.7" x2="72" y2="113.1" stroke="#555" stroke-width="1.3"/>
<line x1="172.3" y1="476" x2="2677.7" y2="476" stroke="#555" stroke-width="1.3"/>
<g stroke="#555" stroke-width="1">
<line x1="66" y1="113.1" x2="72" y2="113.1"/><line x1="66" y1="169.7" x2="72" y2="169.7"/><line x1="66" y1="226.3" x2="72" y2="226.3"/><line x1="66" y1="282.9" x2="72" y2="282.9"/><line x1="66" y1="339.5" x2="72" y2="339.5"/><line x1="66" y1="396.1" x2="72" y2="396.1"/><line x1="66" y1="452.7" x2="72" y2="452.7"/>
</g>
<g font-size="11" fill="#000" text-anchor="middle">
<text transform="translate(54.5,113.1) rotate(-90)">0.2</text>
<text transform="translate(54.5,169.7) rotate(-90)">0.1</text>
<text transform="translate(54.5,226.3) rotate(-90)">0.0</text>
<text transform="translate(54.5,282.9) rotate(-90)">−0.1</text>
<text transform="translate(54.5,339.5) rotate(-90)">−0.2</text>
<text transform="translate(54.5,396.1) rotate(-90)">−0.3</text>
<text transform="translate(54.5,452.7) rotate(-90)">−0.4</text>
<text transform="translate(26.5,274) rotate(-90)">activity</text>
</g>
</svg>
<div class="xl">
<span>Rep1_0CellLine_3T3-L1</span><span>Rep1_0CellLine_Baf3</span><span>Rep1_0CellLine_C2C12</span><span>Rep1_0CellLine_C3H_10T1_2</span><span>Rep1_0CellLine_ESC_Bruce4_p13</span><span>Rep1_0CellLine_ESC_V26_2_p16</span><span>Rep1_0CellLine_mIMCD-3</span><span>Rep1_0CellLine_min6</span><span>Rep1_0CellLine_neuro2a</span><span>Rep1_0CellLine_nih_3T3</span><span>Rep1_0CellLine_RAW_264_7</span><span>Rep1_adipose_brown</span><span>Rep1_adipose_white</span><span>Rep1_adrenal_gland</span><span>Rep1_amygdala</span><span>Rep1_B-cells_marginal_zone</span><span>Rep1_bladder</span><span>Rep1_bone</span><span>Rep1_bone_marrow</span><span>Rep1_cerebellum</span><span>Rep1_cerebral_cortex</span><span>Rep1_cerebral_cortex_prefrontal</span><span>Rep1_ciliary_bodies</span><span>Rep1_common_myeloid_progenitor</span><span>Rep1_cornea</span><span>Rep1_dendritic_cells_lymphoid_CD8a+</span><span>Rep1_dendritic_cells_myeloid_CD8a-</span><span>Rep1_dendritic_plasmacytoid_B220+</span><span>Rep1_dorsal_root_ganglia</span><span>Rep1_dorsal_striatum</span><span>Rep1_epidermis</span><span>Rep1_eyecup</span><span>Rep1_follicular_B-cells</span><span>Rep1_granulocytes_mac1+gr1+</span><span>Rep1_granulo_mono_progenitor</span><span>Rep1_heart</span><span>Rep1_hippocampus</span><span>Rep1_hypothalamus</span><span>Rep1_intestine_large</span><span>Rep1_intestine_small</span><span>Rep1_iris</span><span>Rep1_kidney</span><span>Rep1_lacrimal_gland</span><span>Rep1_lens</span><span>Rep1_liver</span><span>Rep1_lung</span><span>Rep1_lymph_nodes</span><span>Rep1_macrophage_bone_marrow_0hr</span><span>Rep1_macrophage_bone_marrow_24h_LPS</span><span>Rep1_macrophage_bone_marrow_2hr_LPS</span><span>Rep1_macrophage_bone_marrow_6hr_LPS</span><span>Rep1_macrophage_peri_LPS_thio_0hrs</span><span>Rep1_macrophage_peri_LPS_thio_1hrs</span><span>Rep1_macrophage_peri_LPS_thio_7hrs</span><span>Rep1_mammary_gland__lact</span><span>Rep1_mammary_gland_non-lactating</span><span>Rep1_mast_cells</span><span>Rep1_mast_cells_IgE+antigen_1hr</span><span>Rep1_mast_cells_IgE+antigen_6hr</span><span>Rep1_mast_cells_IgE</span><span>Rep1_mega_erythrocyte_progenitor</span><span>Rep1_microglia</span><span>Rep1_NK_cells</span><span>Rep1_nucleus_accumbens</span><span>Rep1_olfactory_bulb</span><span>Rep1_osteoblast_day14</span><span>Rep1_osteoblast_day21</span><span>Rep1_osteoblast_day5</span><span>Rep1_osteoclasts</span><span>Rep1_ovary</span><span>Rep1_pancreas</span><span>Rep1_pituitary</span><span>Rep1_placenta</span><span>Rep1_prostate</span><span>Rep1_retina</span><span>Rep1_retinal_pigment_epithelium</span><span>Rep1_salivary_gland</span><span>Rep1_skeletal_muscle</span><span>Rep1_spinal_cord</span><span>Rep1_spleen</span><span>Rep1_stem_cells__HSC</span><span>Rep1_stomach</span><span>Rep1_T-cells_CD4+</span><span>Rep1_T-cells_CD8+</span><span>Rep1_T-cells_foxP3+</span><span>Rep1_testis</span><span>Rep1_thymocyte_DP_CD4+CD8+</span><span>Rep1_thymocyte_SP_CD4+</span><span>Rep1_thymocyte_SP_CD8+</span><span>Rep1_umbilical_cord</span><span>Rep1_uterus</span><span>Rep2_0CellLine_3T3-L1</span><span>Rep2_0CellLine_Baf3</span><span>Rep2_0CellLine_C2C12</span><span>Rep2_0CellLine_C3H_10T1_2</span><span>Rep2_0CellLine_ESC_Bruce4_p13</span><span>Rep2_0CellLine_ESC_V26_2_p16</span><span>Rep2_0CellLine_mIMCD-3</span><span>Rep2_0CellLine_min6</span><span>Rep2_0CellLine_neuro2a</span><span>Rep2_0CellLine_nih_3T3</span><span>Rep2_0CellLine_RAW_264_7</span><span>Rep2_adipose_brown</span><span>Rep2_adipose_white</span><span>Rep2_adrenal_gland</span><span>Rep2_amygdala</span><span>Rep2_B-cells_marginal_zone</span><span>Rep2_bladder</span><span>Rep2_bone</span><span>Rep2_bone_marrow</span><span>Rep2_cerebellum</span><span>Rep2_cerebral_cortex</span><span>Rep2_cerebral_cortex_prefrontal</span><span>Rep2_ciliary_bodies</span><span>Rep2_common_myeloid_progenitor</span><span>Rep2_cornea</span><span>Rep2_dendritic_cells_lymphoid_CD8a+</span><span>Rep2_dendritic_cells_myeloid_CD8a-</span><span>Rep2_dendritic_plasmacytoid_B220+</span><span>Rep2_dorsal_root_ganglia</span><span>Rep2_dorsal_striatum</span><span>Rep2_epidermis</span><span>Rep2_eyecup</span><span>Rep2_follicular_B-cells</span><span>Rep2_granulocytes_mac1+gr1+</span><span>Rep2_granulo_mono_progenitor</span><span>Rep2_heart</span><span>Rep2_hippocampus</span><span>Rep2_hypothalamus</span><span>Rep2_intestine_large</span><span>Rep2_intestine_small</span><span>Rep2_iris</span><span>Rep2_kidney</span><span>Rep2_lacrimal_gland</span><span>Rep2_lens</span><span>Rep2_liver</span><span>Rep2_lung</span><span>Rep2_lymph_nodes</span><span>Rep2_macrophage_bone_marrow_0hr</span><span>Rep2_macrophage_bone_marrow_24h_LPS</span><span>Rep2_macrophage_bone_marrow_2hr_LPS</span><span>Rep2_macrophage_bone_marrow_6hr_LPS</span><span>Rep2_macrophage_peri_LPS_thio_0hrs</span><span>Rep2_macrophage_peri_LPS_thio_1hrs</span><span>Rep2_macrophage_peri_LPS_thio_7hrs</span><span>Rep2_mammary_gland__lact</span><span>Rep2_mammary_gland_non-lactating</span><span>Rep2_mast_cells</span><span>Rep2_mast_cells_IgE+antigen_1hr</span><span>Rep2_mast_cells_IgE+antigen_6hr</span><span>Rep2_mast_cells_IgE</span><span>Rep2_mega_erythrocyte_progenitor</span><span>Rep2_microglia</span><span>Rep2_NK_cells</span><span>Rep2_nucleus_accumbens</span><span>Rep2_olfactory_bulb</span><span>Rep2_osteoblast_day14</span><span>Rep2_osteoblast_day21</span><span>Rep2_osteoblast_day5</span><span>Rep2_osteoclasts</span><span>Rep2_ovary</span><span>Rep2_pancreas</span><span>Rep2_pituitary</span><span>Rep2_placenta</span><span>Rep2_prostate</span><span>Rep2_retina</span><span>Rep2_retinal_pigment_epithelium</span><span>Rep2_salivary_gland</span><span>Rep2_skeletal_muscle</span><span>Rep2_spinal_cord</span><span>Rep2_spleen</span><span>Rep2_stem_cells__HSC</span><span>Rep2_stomach</span><span>Rep2_T-cells_CD4+</span><span>Rep2_T-cells_CD8+</span><span>Rep2_T-cells_foxP3+</span><span>Rep2_testis</span><span>Rep2_thymocyte_DP_CD4+CD8+</span><span>Rep2_thymocyte_SP_CD4+</span><span>Rep2_thymocyte_SP_CD8+</span><span>Rep2_umbilical_cord</span><span>Rep2_uterus</span>
</div>
</div></body></html>
